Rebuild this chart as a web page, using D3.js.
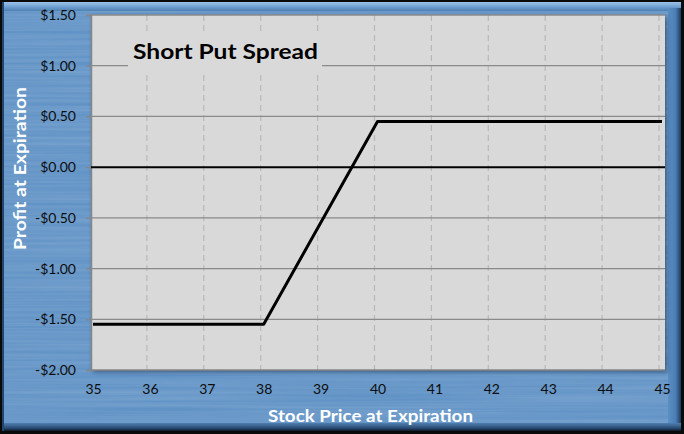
<!DOCTYPE html>
<html>
<head>
<meta charset="utf-8">
<script src="https://cdn.jsdelivr.net/npm/d3@7"></script>
<style>
  html, body { margin: 0; padding: 0; background: #000; }
  svg { display: block; }
</style>
</head>
<body>
<div id="chart"></div>
<script>
const prices = [35, 38, 40, 45];
const profits = [-1.55, -1.55, 0.45, 0.45];
const xTicks = [35, 36, 37, 38, 39, 40, 41, 42, 43, 44, 45];
const yTicks = [-2, -1.5, -1, -0.5, 0, 0.5, 1, 1.5];
const chartTitle = "Short Put Spread";
const xTitle = "Stock Price at Expiration";
const yTitle = "Profit at Expiration";

const W = 684, H = 434;
const plot = { left: 91, right: 665, top: 15, bottom: 370 };
const font = "Lato, 'Open Sans', sans-serif";

const svg = d3.select("#chart").append("svg")
  .attr("width", W).attr("height", H);

const defs = svg.append("defs");

// brushed metal streaks
const brush = defs.append("filter").attr("id", "brush")
  .attr("x", 0).attr("y", 0).attr("width", "100%").attr("height", "100%");
brush.append("feTurbulence").attr("type", "fractalNoise")
  .attr("baseFrequency", "0.004 0.35").attr("numOctaves", 2).attr("seed", 4);
brush.append("feColorMatrix").attr("type", "matrix")
  .attr("values", "0 0 0 0 1  0 0 0 0 1  0 0 0 0 1  0 0 0 0.2 0");

const topGrad = defs.append("linearGradient").attr("id", "topBevel")
  .attr("x1", 0).attr("x2", 0).attr("y1", 0).attr("y2", 1);
topGrad.append("stop").attr("offset", "0%").attr("stop-color", "#9cc3e8");
topGrad.append("stop").attr("offset", "55%").attr("stop-color", "#6f9fd0");
topGrad.append("stop").attr("offset", "100%").attr("stop-color", "#4d7fb2");

const rightGrad = defs.append("linearGradient").attr("id", "rightBevel")
  .attr("x1", 0).attr("x2", 1).attr("y1", 0).attr("y2", 0);
rightGrad.append("stop").attr("offset", "0%").attr("stop-color", "#5b8ec2");
rightGrad.append("stop").attr("offset", "60%").attr("stop-color", "#4a7db3");
rightGrad.append("stop").attr("offset", "100%").attr("stop-color", "#1e3a5c");

const botGrad = defs.append("linearGradient").attr("id", "botShadow")
  .attr("x1", 0).attr("x2", 0).attr("y1", 0).attr("y2", 1);
botGrad.append("stop").attr("offset", "0%").attr("stop-color", "#4f7fb0");
botGrad.append("stop").attr("offset", "60%").attr("stop-color", "#2c4f78");
botGrad.append("stop").attr("offset", "100%").attr("stop-color", "#0d1a2a");

const shadow = defs.append("filter").attr("id", "plotShadow")
  .attr("x", "-5%").attr("y", "-5%").attr("width", "110%").attr("height", "110%");
shadow.append("feGaussianBlur").attr("stdDeviation", 2);

// frame
svg.append("rect").attr("width", W).attr("height", H).attr("fill", "#0a0a0a");
svg.append("rect").attr("x", 2).attr("y", 2).attr("width", W - 5).attr("height", H - 5)
  .attr("fill", "#5a8ec3");
svg.append("rect").attr("x", 2).attr("y", 2).attr("width", W - 5).attr("height", H - 5)
  .attr("filter", "url(#brush)");
svg.append("rect").attr("x", 2).attr("y", 2).attr("width", W - 5).attr("height", 9)
  .attr("fill", "url(#topBevel)");
svg.append("rect").attr("x", W - 16).attr("y", 8).attr("width", 13).attr("height", H - 12)
  .attr("fill", "url(#rightBevel)");
svg.append("rect").attr("x", 2).attr("y", H - 11).attr("width", W - 5).attr("height", 8)
  .attr("fill", "url(#botShadow)");
svg.append("rect").attr("x", 2).attr("y", 2).attr("width", 2).attr("height", H - 5)
  .attr("fill", "#23466e");

// plot area
svg.append("rect")
  .attr("x", plot.left + 2).attr("y", plot.top + 2)
  .attr("width", plot.right - plot.left).attr("height", plot.bottom - plot.top)
  .attr("fill", "#1c3350").attr("opacity", 0.6).attr("filter", "url(#plotShadow)");
svg.append("rect")
  .attr("x", plot.left).attr("y", plot.top)
  .attr("width", plot.right - plot.left).attr("height", plot.bottom - plot.top)
  .attr("fill", "#d9d9d9");

const x = d3.scaleLinear().domain([35, 45]).range([93, 662]);
const y = d3.scaleLinear().domain([-2, 1.5]).range([plot.bottom, plot.top]);

// vertical dashed gridlines (Excel draws them a few px left of the points)
svg.append("g").selectAll("line").data(xTicks.slice(1)).join("line")
  .attr("x1", d => x(d) - 3).attr("x2", d => x(d) - 3)
  .attr("y1", plot.top).attr("y2", plot.bottom)
  .attr("stroke", "#b8b8b8").attr("stroke-width", 1.2).attr("stroke-dasharray", "6 4");

// horizontal gridlines
svg.append("g").selectAll("line").data(yTicks.filter(d => d !== 0 && d !== -2)).join("line")
  .attr("x1", plot.left).attr("x2", plot.right)
  .attr("y1", d => y(d)).attr("y2", d => y(d))
  .attr("stroke", "#8a8a8a").attr("stroke-width", 1.3);

// y axis
const yAxis = svg.append("g").attr("transform", `translate(${plot.left},0)`)
  .call(d3.axisLeft(y).tickValues(yTicks).tickSize(5).tickPadding(10)
    .tickFormat(d => (d < 0 ? "-$" : "$") + Math.abs(d).toFixed(2)));
yAxis.select(".domain").attr("stroke", "#868686").attr("stroke-width", 1.5);
yAxis.selectAll(".tick line").attr("stroke", "#868686").attr("stroke-width", 1.3);
yAxis.selectAll(".tick text").attr("fill", "#0d0d0d").attr("font-size", 14)
  .attr("font-family", font);

// x axis
const xAxis = svg.append("g").attr("transform", `translate(0,${plot.bottom})`)
  .call(d3.axisBottom(x).tickValues(xTicks).tickSize(0).tickPadding(14).tickFormat(d3.format("d")));
xAxis.select(".domain").remove();
xAxis.selectAll(".tick text").attr("fill", "#0d0d0d").attr("font-size", 14)
  .attr("font-family", font);
svg.append("line")
  .attr("x1", plot.left).attr("x2", plot.right)
  .attr("y1", plot.bottom).attr("y2", plot.bottom)
  .attr("stroke", "#868686").attr("stroke-width", 1.5);

// zero line
svg.append("line")
  .attr("x1", plot.left).attr("x2", plot.right)
  .attr("y1", y(0)).attr("y2", y(0))
  .attr("stroke", "#000").attr("stroke-width", 2);

// payoff line
const line = d3.line().x((d, i) => x(prices[i])).y(d => y(d));
svg.append("path").datum(profits)
  .attr("d", line)
  .attr("fill", "none").attr("stroke", "#000").attr("stroke-width", 3)
  .attr("stroke-linejoin", "round");

// chart title with its own background box
svg.append("rect").attr("x", 128).attr("y", 33).attr("width", 194).attr("height", 38)
  .attr("fill", "#d9d9d9");
svg.append("text").attr("x", 133).attr("y", 59)
  .attr("font-family", font).attr("font-weight", "bold").attr("font-size", 21)
  .attr("textLength", 185).attr("lengthAdjust", "spacingAndGlyphs")
  .attr("fill", "#000").text(chartTitle);

// axis titles
svg.append("text").attr("x", 268).attr("y", 422)
  .attr("font-family", font).attr("font-weight", "bold").attr("font-size", 17.5)
  .attr("textLength", 205).attr("lengthAdjust", "spacingAndGlyphs")
  .attr("fill", "#fff").text(xTitle);

svg.append("text")
  .attr("transform", `translate(26,${250}) rotate(-90)`)
  .attr("font-family", font).attr("font-weight", "bold").attr("font-size", 17)
  .attr("textLength", 163).attr("lengthAdjust", "spacingAndGlyphs")
  .attr("fill", "#fff").text(yTitle);
</script>
</body>
</html>
